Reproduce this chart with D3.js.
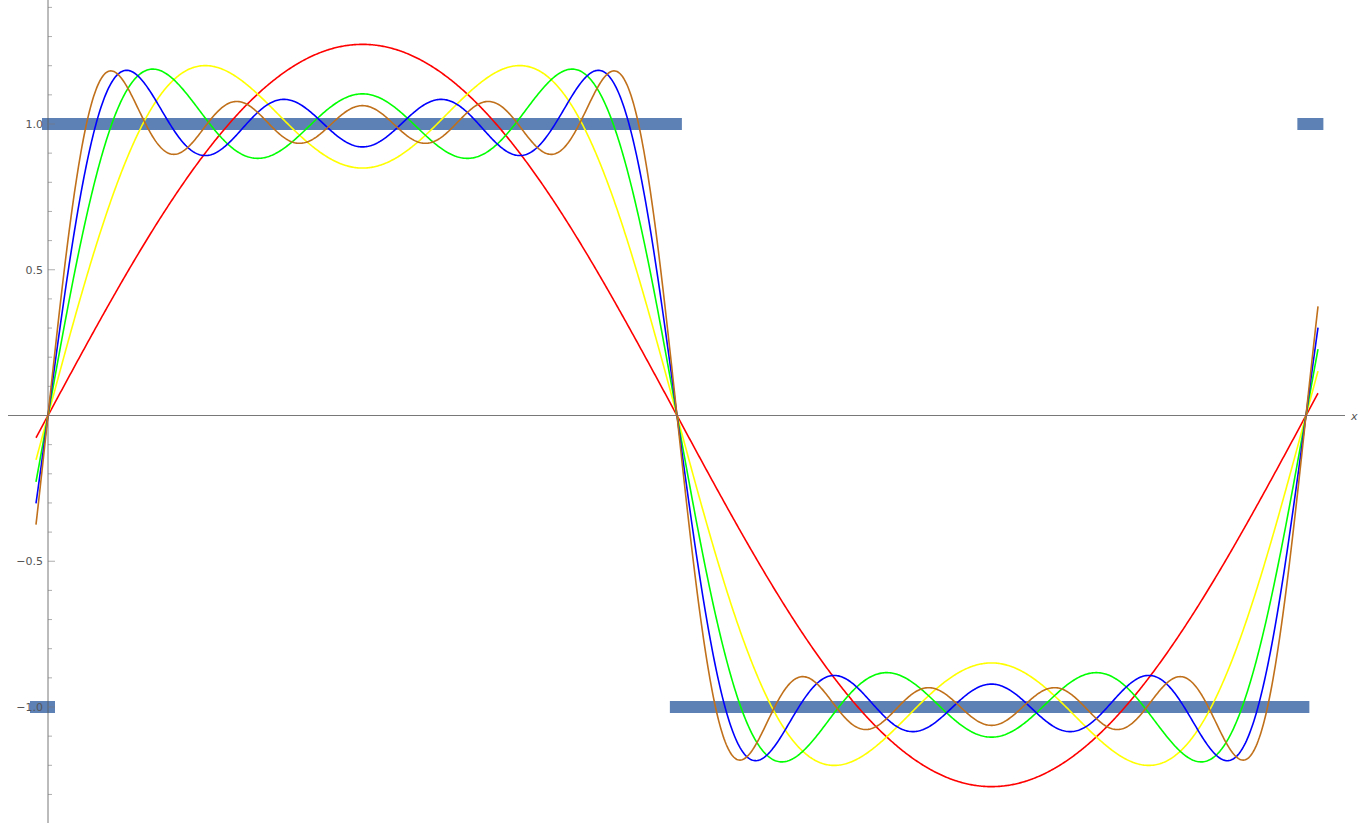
<!DOCTYPE html>
<html><head><meta charset="utf-8">
<script src="https://cdn.jsdelivr.net/npm/d3@7"></script>
<style>body{margin:0;background:#fff}text{font-family:"DejaVu Sans",sans-serif;fill:#555;font-size:11px}</style>
</head><body><svg id="c" width="1358" height="823"></svg>
<script>
// harmonic orders and amplitudes of each partial sum (4/(pi*k))
const orders = [1, 3, 5, 7, 9]
const amplitudes = [1.2732, 0.4244, 0.2546, 0.1819, 0.1415]
const termCounts = [1, 2, 3, 4, 5]
const colors = ['#ff0000', '#ffff00', '#00ff00', '#0000ff', '#c0701a']
// square wave segments [x0, x1, y]
const squareSegs = [[-0.03, 3.166, 1], [3.106, 6.30, -1], [6.24, 6.37, 1], [-0.09, 0.035, -1]]
const yTicks = [1.0, 0.5, -0.5, -1.0]

const svg = d3.select('#c')
const x = d3.scaleLinear().domain([0, Math.PI]).range([48, 677])
const y = d3.scaleLinear().domain([1, -1]).range([124, 707])

// square wave
svg.selectAll('line.sq').data(squareSegs).enter().append('line')
  .attr('x1', d => x(d[0])).attr('x2', d => x(d[1]))
  .attr('y1', d => y(d[2])).attr('y2', d => y(d[2]))
  .attr('stroke', '#5e81b5').attr('stroke-width', 12)

// axes
svg.append('line').attr('x1', 8).attr('x2', 1345).attr('y1', y(0)).attr('y2', y(0)).attr('stroke', '#555').attr('stroke-width', 0.8)
svg.append('line').attr('x1', x(0)).attr('x2', x(0)).attr('y1', 0).attr('y2', 823).attr('stroke', '#555').attr('stroke-width', 0.8)
svg.append('text').attr('x', 1351).attr('y', y(0) + 4).style('font-style', 'italic').text('x')
d3.range(-14, 15).forEach(function (i) {
  const v = i / 10
  const major = i % 5 === 0
  svg.append('line').attr('x1', x(0)).attr('x2', x(0) + (major ? 7 : 4))
    .attr('y1', y(v)).attr('y2', y(v)).attr('stroke', '#777').attr('stroke-width', 0.6)
})
svg.selectAll('text.yt').data(yTicks).enter().append('text')
  .attr('x', x(0) - 5).attr('y', d => y(d) + 4).attr('text-anchor', 'end')
  .text(d => (d < 0 ? '\u2212' : '') + Math.abs(d).toFixed(1))

// partial sums
const xs = d3.range(0, 1201).map(i => -0.06 + i * (2 * Math.PI + 0.12) / 1200)
const line = d3.line().x(d => x(d[0])).y(d => y(d[1]))
termCounts.forEach(function (n, ci) {
  const pts = xs.map(function (t) {
    let s = 0
    for (let k = 0; k < n; k++) s += amplitudes[k] * Math.sin(orders[k] * t)
    return [t, s]
  })
  svg.append('path').attr('d', line(pts)).attr('fill', 'none')
    .attr('stroke', colors[ci]).attr('stroke-width', 1.6)
})
</script></body></html>
